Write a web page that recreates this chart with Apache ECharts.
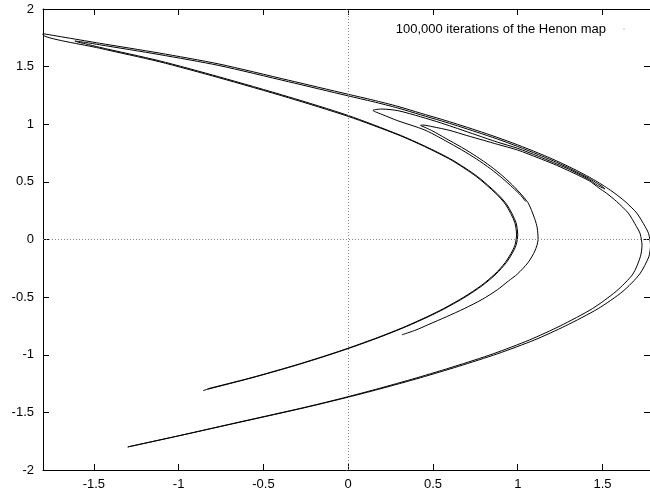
<!DOCTYPE html>
<html>
<head>
<meta charset="utf-8">
<script src="https://cdn.jsdelivr.net/npm/echarts@6/dist/echarts.min.js"></script>
<style>html,body{margin:0;padding:0;background:#fff;}#c{width:650px;height:500px;}</style>
</head>
<body>
<div id="c"></div>
<script>
// Tick labels
const xTicks = [-1.5, -1, -0.5, 0, 0.5, 1, 1.5];
const yTicks = [-2, -1.5, -1, -0.5, 0, 0.5, 1, 1.5, 2];
const titleText = '100,000 iterations of the Henon map';

// Strands of the attractor ([x, y] pairs)
// fold with tip near (0.43, 0.99): inner branch (vertex ~1.12)
const dInner = [[0.317,-0.827],[0.40,-0.785],[0.47,-0.74],[0.58,-0.67],[0.684,-0.6],[0.79,-0.52],[0.88,-0.436],[0.945,-0.36],[0.998,-0.3],[1.061,-0.2],[1.101,-0.1],[1.12,0.0],[1.115,0.1],[1.10,0.18],[1.06,0.32],[0.984,0.45],[0.912,0.55],[0.841,0.634],[0.757,0.72],[0.669,0.80],[0.572,0.88],[0.50,0.94],[0.46,0.968],[0.435,0.984],[0.427,0.99]];
// same fold: outer branch (vertex ~1.73) down to the lower-left end
const dOuter = [[0.427,0.99],[0.44,0.993],[0.50,0.978],[0.60,0.946],[0.70,0.902],[0.80,0.86],[0.88,0.826],[1.0,0.776],[1.121,0.708],[1.21,0.656],[1.291,0.603],[1.36,0.555],[1.423,0.508],[1.476,0.45],[1.525,0.40],[1.583,0.33],[1.652,0.229],[1.70,0.113],[1.722,0.05],[1.733,-0.05],[1.723,-0.15],[1.679,-0.3],[1.58,-0.45],[1.44,-0.6],[1.25,-0.75],[1.07,-0.871],[0.855,-0.992],[0.63,-1.1],[0.405,-1.2],[0.163,-1.3],[-0.012,-1.368],[-0.153,-1.42],[-0.302,-1.472],[-0.69,-1.6],[-0.995,-1.702],[-1.30,-1.80]];
// outermost curve: lower-left end, right vertex, top-left tip
const aOuter = [[-1.30,-1.80],[-0.99,-1.70],[-0.684,-1.6],[-0.294,-1.472],[-0.144,-1.42],[0,-1.368],[0.179,-1.3],[0.425,-1.2],[0.652,-1.1],[0.88,-0.992],[1.10,-0.871],[1.281,-0.75],[1.474,-0.6],[1.62,-0.45],[1.719,-0.3],[1.773,-0.15],[1.783,-0.05],[1.772,0.05],[1.751,0.113],[1.702,0.229],[1.633,0.33],[1.573,0.40],[1.524,0.45],[1.47,0.50],[1.423,0.54],[1.346,0.60],[1.266,0.657],[1.191,0.707],[1.121,0.75],[1.0,0.821],[0.873,0.889],[0.761,0.945],[0.645,1.0],[0.55,1.043],[0.427,1.096],[0.293,1.155],[0.146,1.21],[0,1.26],[-0.352,1.382],[-0.763,1.523],[-1.115,1.618],[-1.467,1.703],[-1.8,1.786]];
// inner main curve: top-left tip, vertex ~0.99, lower end
const bInner = [[-1.8,1.777],[-1.467,1.66],[-1.115,1.543],[-0.763,1.404],[-0.352,1.230],[0,1.068],[0.293,0.909],[0.45,0.807],[0.607,0.69],[0.755,0.547],[0.87,0.40],[0.93,0.30],[0.982,0.15],[0.993,0.04],[0.985,-0.04],[0.968,-0.1],[0.926,-0.2],[0.865,-0.3],[0.784,-0.4],[0.682,-0.5],[0.562,-0.6],[0.464,-0.671],[0.337,-0.755],[0.175,-0.85],[0,-0.943],[-0.158,-1.02],[-0.334,-1.1],[-0.574,-1.2],[-0.831,-1.296]];
// fold with tip near (0.15, 1.12)
const cLower = [[1.046,0.33],[1.02,0.38],[0.971,0.45],[0.912,0.528],[0.841,0.612],[0.757,0.698],[0.669,0.778],[0.572,0.858],[0.52,0.9],[0.46,0.945],[0.40,0.978],[0.293,1.03],[0.20,1.085],[0.16,1.108],[0.146,1.12]];
const cUpper = [[0.146,1.12],[0.16,1.127],[0.20,1.132],[0.293,1.118],[0.427,1.065],[0.55,1.01],[0.645,0.963],[0.76,0.905],[0.88,0.845],[1.0,0.791],[1.121,0.722],[1.21,0.668],[1.291,0.617],[1.36,0.567],[1.423,0.518],[1.47,0.47],[1.505,0.445],[1.515,0.438]];
// thin fold with tip near (-1.61, 1.72), hugging the main curves
const eUpper = [[1.515,0.438],[1.50,0.458],[1.47,0.486],[1.423,0.529],[1.36,0.577],[1.291,0.628],[1.21,0.682],[1.121,0.737],[1.0,0.807],[0.88,0.872],[0.76,0.931],[0.645,0.986],[0.55,1.029],[0.427,1.082],[0.293,1.141],[0.146,1.196],[0,1.246],[-0.352,1.369],[-0.763,1.51],[-1.115,1.605],[-1.467,1.69],[-1.55,1.71],[-1.59,1.718],[-1.612,1.722]];
const eLower = [[-1.612,1.722],[-1.59,1.711],[-1.55,1.698],[-1.467,1.668],[-1.115,1.551],[-0.763,1.412],[-0.352,1.238],[0,1.076],[0.3,0.909],[0.457,0.807],[0.614,0.69],[0.762,0.547],[0.877,0.40],[0.937,0.30],[0.989,0.15],[1.0,0.04],[0.992,-0.04],[0.975,-0.1],[0.933,-0.2],[0.872,-0.3],[0.791,-0.4],[0.689,-0.5],[0.569,-0.6],[0.471,-0.671],[0.344,-0.755],[0.182,-0.85],[0.007,-0.943],[-0.151,-1.02],[-0.327,-1.1],[-0.567,-1.2],[-0.83,-1.3],[-0.856,-1.311]];

const curve1 = [].concat(dInner, dOuter, aOuter, bInner);
const curve2 = [].concat(cLower, cUpper, eUpper, eLower);

const FONT = '"Liberation Sans", Arial, Helvetica, sans-serif';
const chart = echarts.init(document.getElementById('c'), null, {renderer: 'canvas'});

const lineSeries = (data) => ({
  type: 'line', data: data, xAxisIndex: 0, yAxisIndex: 0,
  showSymbol: false, symbol: 'none', smooth: 0.25, silent: true,
  lineStyle: {color: '#000', width: 1}, animation: false, z: 3
});

chart.setOption({
  animation: false,
  backgroundColor: '#fff',
  grid: {left: 43, right: -3, top: 9, bottom: 30, containLabel: false},
  xAxis: [{
    type: 'value', position: 'bottom', min: -1.8, max: 1.78,
    axisLine: {onZero: false, lineStyle: {color: '#000', width: 1}},
    axisTick: {inside: true, length: 6, customValues: xTicks, lineStyle: {color: '#000'}},
    axisLabel: {customValues: xTicks, margin: 8, fontSize: 13, color: '#000', fontFamily: FONT},
    splitLine: {show: false}
  }, {
    type: 'value', position: 'top', min: -1.8, max: 1.78,
    axisLine: {onZero: false, lineStyle: {color: '#000', width: 1}},
    axisTick: {inside: true, length: 6, customValues: xTicks, lineStyle: {color: '#000'}},
    axisLabel: {show: false},
    splitLine: {show: false}
  }],
  yAxis: [{
    type: 'value', position: 'left', min: -2, max: 2, interval: 0.5,
    axisLine: {show: true, onZero: false, lineStyle: {color: '#000', width: 1}},
    axisTick: {show: true, inside: true, length: 6, lineStyle: {color: '#000'}},
    axisLabel: {margin: 9, fontSize: 13, color: '#000', fontFamily: FONT},
    splitLine: {show: false}
  }, {
    type: 'value', position: 'right', min: -2, max: 2, interval: 0.5,
    axisLine: {show: true, onZero: false, lineStyle: {color: '#000', width: 1}},
    axisTick: {show: true, inside: true, length: 6, lineStyle: {color: '#000'}},
    axisLabel: {show: false},
    splitLine: {show: false}
  }],
  series: [
    Object.assign(lineSeries(curve1), {
      markLine: {
        silent: true, symbol: ['none', 'none'], animation: false,
        label: {show: false},
        lineStyle: {type: [1, 2], color: '#888', width: 1},
        emphasis: {disabled: true},
        data: [{xAxis: 0}, {yAxis: 0}]
      }
    }),
    lineSeries(curve2)
  ],
  graphic: [{
    type: 'text', x: 606, y: 29,
    style: {text: titleText, fill: '#000', font: '13px ' + FONT, align: 'right', verticalAlign: 'middle'}
  }, {
    type: 'rect', shape: {x: 623.5, y: 28.5, width: 1, height: 1}, style: {fill: '#777'}
  }]
});
</script>
</body>
</html>
